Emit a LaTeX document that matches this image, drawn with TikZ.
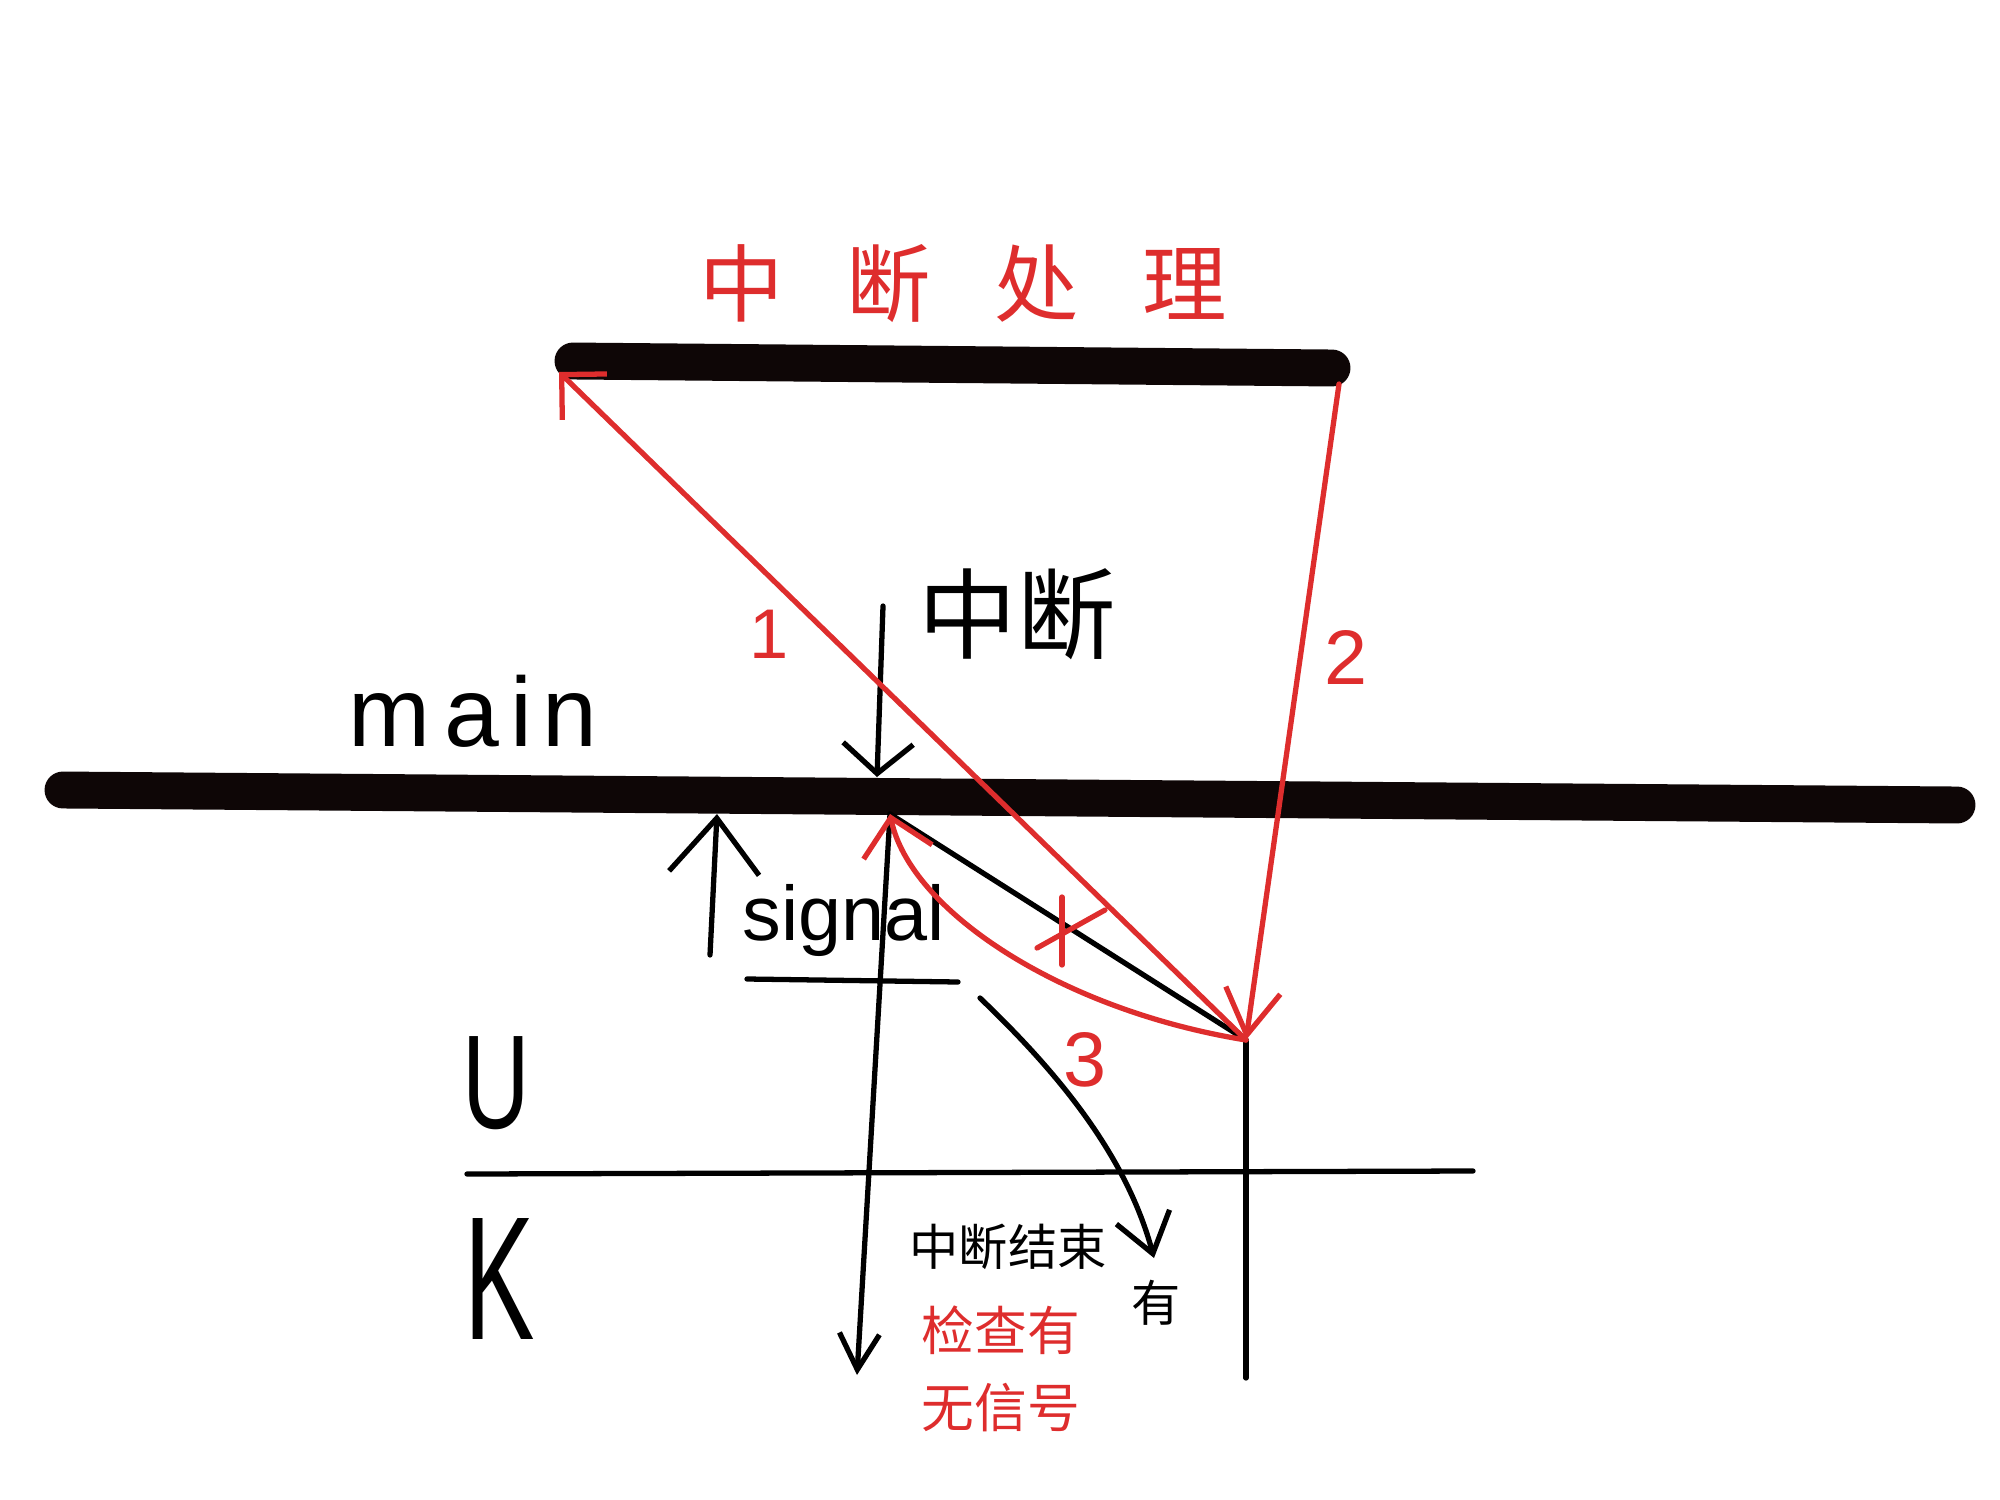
\documentclass[tikz,border=0pt]{standalone}
\usepackage{fontspec}
\setmainfont{Liberation Sans}
\newfontfamily\cjk{Noto Sans CJK SC}
\usepackage{graphicx}
\usepackage{tikz}
\usetikzlibrary{positioning, calc}
\usetikzlibrary{arrows.meta}
\definecolor{pen-red}{RGB}{222,45,45}
\definecolor{ink}{RGB}{14,6,6}

\begin{document}
\begin{tikzpicture}[x=0.01cm,y=-0.01cm]
	\def \barwd{10.5pt}
	\def \penwd{1.5pt}
	\tikzstyle{bar-line}=[draw=ink,line width=\barwd,line cap=round]
	\tikzstyle{ink-line}=[draw=black,line width=\penwd,line cap=round,line join=round]
	\tikzstyle{red-line}=[draw=pen-red,line width=\penwd,line cap=round,line join=round]
	\tikzstyle{cn-lbl}=[inner sep=0pt,font=\cjk]
	\tikzstyle{num-lbl}=[inner sep=0pt,text=pen-red]
	\useasboundingbox (0,0) rectangle (2000,1500);

	% the two routines
	\coordinate (isr-l)	at (573,361);
	\coordinate (isr-r)	at (1332,368);
	\coordinate (main-l)	at (63,790);
	\coordinate (main-r)	at (1957,805);
	\path[bar-line] (isr-l) -- (isr-r);
	\path[bar-line] (main-l) -- (main-r);

	\node[cn-lbl,text=pen-red,font=\cjk\fontsize{24pt}{28pt}\selectfont] (title) at (963,284)
		{中\hspace{18pt}断\hspace{18pt}处\hspace{18pt}理};
	\node[inner sep=0pt,anchor=base,font=\fontsize{28pt}{32pt}\selectfont] (main) at (473,746)
		{m\hspace{4pt}a\hspace{3pt}i\hspace{3pt}n};

	% interrupt comes in
	\coordinate (irq-top)	at (883,606);
	\coordinate (irq-hit)	at (877,777);
	\node[cn-lbl,font=\cjk\fontsize{28pt}{32pt}\selectfont] (irq) at (1017,614) {中断};

	% points of the jumps
	\coordinate (isr-in)	at (559,372);
	\coordinate (isr-out)	at (1339,384);
	\coordinate (brk)	at (1246,1040);
	\coordinate (back)	at (890,814);
	\coordinate (down)	at (857,1375);

	% signal
	\coordinate (sig-foot)	at (710,955);
	\coordinate (sig-tip)	at (717,814);
	\coordinate (sig-ul-l)	at (747,979);
	\coordinate (sig-ul-r)	at (958,982);
	\node[inner sep=0pt,anchor=base,font=\fontsize{22pt}{26pt}\selectfont] (signal) at (844,940) {signal};

	% user / kernel
	\coordinate (uk-l)	at (467,1174);
	\coordinate (uk-r)	at (1473,1171);
	\coordinate (brk-foot)	at (1246,1378);
	\node[inner sep=0pt,font=\fontsize{38pt}{40pt}\selectfont] (user) at (496,1083) {\scalebox{0.7}[1]{U}};
	\node[inner sep=0pt,font=\fontsize{50pt}{52pt}\selectfont] (kern) at (500,1279) {\scalebox{0.6}[1]{K}};

	% end of interrupt
	\node[cn-lbl,font=\cjk\fontsize{14pt}{16pt}\selectfont] (irq-end) at (1008,1247) {中断结束};
	\node[cn-lbl,text=pen-red,align=center,font=\cjk\fontsize{15pt}{22pt}\selectfont] (check) at (1001,1369) {检查有\\无信号};
	\coordinate (yes-from)	at (980,998);
	\coordinate (yes-tip)	at (1154,1258);
	\node[cn-lbl,font=\cjk\fontsize{14pt}{16pt}\selectfont] (yes) at (1156,1303) {有};

	% numbers
	\node[num-lbl,font=\fontsize{20pt}{22pt}\selectfont] (n1) at (769,634) {1};
	\node[num-lbl,font=\fontsize{22pt}{24pt}\selectfont] (n2) at (1346,657) {2};
	\node[num-lbl,font=\fontsize{22pt}{24pt}\selectfont] (n3) at (1085,1060) {3};

	% marks on the return line
	\coordinate (mk-a)	at (1062,897);
	\coordinate (mk-b)	at (1062,965);
	\coordinate (mk-c)	at (1037,948);
	\coordinate (mk-d)	at (1105,910);

	\path (irq-top) edge[ink-line,-{Straight Barb[length=3mm,width=7mm]}] (irq-hit)
		(sig-foot) edge[ink-line,-{Straight Barb[length=5.5mm,width=9mm]}] (sig-tip)
		(sig-ul-l) edge[ink-line] (sig-ul-r)
		(back) edge[ink-line,-{Straight Barb[length=3.6mm,width=4mm]}] (down)
		(back) edge[ink-line] (brk)
		(uk-l) edge[ink-line] (uk-r)
		(brk) edge[ink-line] (brk-foot)
		(brk) edge[red-line,-{Straight Barb[length=3.2mm,width=6.4mm]}] (isr-in)
		(isr-out) edge[red-line,-{Straight Barb[length=4.5mm,width=5.5mm]}] (brk)
		(mk-a) edge[red-line] (mk-b)
		(mk-c) edge[red-line] (mk-d);
	\draw[red-line,-{Straight Barb[length=3.5mm,width=7mm]}] (brk) .. controls (1060,1010) and (910,910) .. (back);
	\draw[ink-line,-{Straight Barb[length=3.8mm,width=5.5mm]}] (yes-from) .. controls (1050,1065) and (1125,1150) .. (yes-tip);
\end{tikzpicture}
\end{document}
